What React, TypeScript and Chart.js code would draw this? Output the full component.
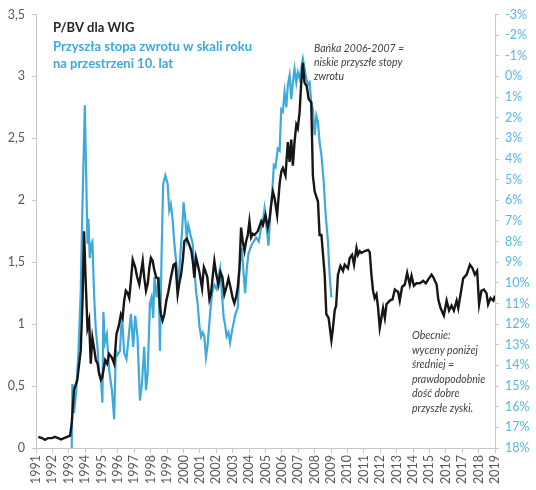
import { useEffect, useRef } from "react";
import { Chart, registerables } from "chart.js";

Chart.register(...registerables);

// P/BV dla WIG (lewa oś)
const pbvYears = [
  1991.14, 1991.37, 1991.55, 1991.73, 1991.98, 1992.16, 1992.35, 1992.53, 1992.71, 1992.9,
  1993.08, 1993.18, 1993.32, 1993.52, 1993.73, 1993.84, 1993.93, 1994.03, 1994.14, 1994.24,
  1994.34, 1994.44, 1994.55, 1994.65, 1994.76, 1994.85, 1994.96, 1995.04, 1995.22, 1995.34,
  1995.46, 1995.63, 1995.77, 1995.91, 1996.04, 1996.18, 1996.28, 1996.38, 1996.48, 1996.59,
  1996.69, 1996.79, 1996.9, 1997.05, 1997.17, 1997.3, 1997.42, 1997.51, 1997.6, 1997.71,
  1997.82, 1997.91, 1998.01, 1998.12, 1998.21, 1998.34, 1998.46, 1998.55, 1998.62, 1998.72,
  1998.83, 1998.95, 1999.07, 1999.22, 1999.39, 1999.51, 1999.64, 1999.74, 1999.85, 1999.96,
  2000.05, 2000.2, 2000.35, 2000.48, 2000.57, 2000.66, 2000.76, 2000.87, 2000.97, 2001.13,
  2001.24, 2001.33, 2001.45, 2001.58, 2001.68, 2001.79, 2001.88, 2002.0, 2002.13, 2002.25,
  2002.37, 2002.49, 2002.62, 2002.74, 2002.86, 2003.0, 2003.1, 2003.21, 2003.31, 2003.41,
  2003.51, 2003.61, 2003.72, 2003.82, 2003.92, 2004.02, 2004.12, 2004.23, 2004.33, 2004.53,
  2004.74, 2004.84, 2005.0, 2005.14, 2005.25, 2005.35, 2005.45, 2005.55, 2005.71, 2005.86,
  2005.96, 2006.06, 2006.22, 2006.36, 2006.47, 2006.57, 2006.67, 2006.77, 2006.88, 2006.97,
  2007.08, 2007.18, 2007.28, 2007.38, 2007.52, 2007.63, 2007.79, 2007.89, 2008.0, 2008.2,
  2008.3, 2008.41, 2008.61, 2008.71, 2008.85, 2009.02, 2009.1, 2009.22, 2009.31, 2009.42,
  2009.57, 2009.73, 2009.83, 2010.03, 2010.14, 2010.28, 2010.4, 2010.55, 2010.64, 2010.75,
  2010.85, 2011.05, 2011.26, 2011.36, 2011.46, 2011.56, 2011.66, 2011.77, 2011.87, 2011.97,
  2012.07, 2012.17, 2012.28, 2012.38, 2012.58, 2012.75, 2012.89, 2013.09, 2013.19, 2013.33,
  2013.5, 2013.64, 2013.8, 2013.91, 2014.05, 2014.21, 2014.42, 2014.62, 2014.78, 2014.92,
  2015.13, 2015.23, 2015.44, 2015.54, 2015.68, 2015.88, 2016.05, 2016.2, 2016.35, 2016.49,
  2016.66, 2016.76, 2016.96, 2017.06, 2017.27, 2017.47, 2017.63, 2017.77, 2017.91, 2018.03,
  2018.17, 2018.32, 2018.48, 2018.58, 2018.73, 2018.9, 2019.0,
];
const pbvValues = [
  0.09, 0.08, 0.065, 0.08, 0.08, 0.09, 0.08, 0.07, 0.08, 0.09,
  0.1, 0.2, 0.47, 0.55, 0.79, 1.2, 1.75, 1.35, 0.97, 1.03,
  0.68, 0.89, 0.8, 0.71, 0.68, 0.6, 0.55, 0.57, 0.71, 0.68,
  0.76, 0.73, 0.68, 0.92, 0.98, 1.08, 1.05, 1.19, 1.27, 1.25,
  1.21, 1.35, 1.52, 1.46, 1.38, 1.32, 1.43, 1.51, 1.38, 1.27,
  1.33, 1.45, 1.535, 1.51, 1.44, 1.375, 1.37, 1.15, 1.08, 1.03,
  1.08, 1.19, 1.26, 1.37, 1.48, 1.49, 1.24, 1.33, 1.4, 1.52,
  1.67, 1.69, 1.64, 1.59, 1.5, 1.375, 1.54, 1.48, 1.42, 1.29,
  1.46, 1.43, 1.38, 1.2, 1.25, 1.4, 1.51, 1.4, 1.32, 1.42,
  1.38, 1.24, 1.3, 1.37, 1.3, 1.21, 1.17, 1.22, 1.3, 1.45,
  1.78, 1.67, 1.59, 1.67, 1.72, 1.83, 1.7, 1.73, 1.72, 1.75,
  1.83, 1.8, 1.88, 1.78, 1.85, 1.97, 2.07, 2.02, 1.88, 2.13,
  2.23, 2.26, 2.2, 2.47, 2.31, 2.49, 2.28, 2.47, 2.61, 2.58,
  2.71, 2.95, 3.11, 2.95, 2.92, 2.82, 2.79, 2.2, 2.07, 1.99,
  1.72, 1.72, 1.4, 1.08, 1.05, 0.87, 0.95, 1.11, 1.15, 1.4,
  1.47, 1.43, 1.48, 1.45, 1.535, 1.56, 1.48, 1.615, 1.56, 1.59,
  1.575, 1.59, 1.6, 1.58, 1.4, 1.27, 1.21, 1.24, 1.13, 0.97,
  1.05, 1.13, 1.05, 1.16, 1.19, 1.2, 1.28, 1.26, 1.19, 1.3,
  1.32, 1.415, 1.32, 1.39, 1.31, 1.33, 1.33, 1.35, 1.33, 1.36,
  1.4, 1.38, 1.32, 1.2, 1.13, 1.07, 1.19, 1.11, 1.15, 1.11,
  1.19, 1.13, 1.29, 1.37, 1.4, 1.48, 1.45, 1.4, 1.43, 1.16,
  1.27, 1.28, 1.25, 1.16, 1.21, 1.19, 1.23,
];

// Przyszła stopa zwrotu w skali roku na przestrzeni 10 lat, % (prawa oś, odwrócona)
const returnYears = [
  1993.18, 1993.22, 1993.32, 1993.45, 1993.59, 1993.73, 1993.83, 1993.98, 1994.08, 1994.14,
  1994.2, 1994.28, 1994.38, 1994.44, 1994.55, 1994.65, 1994.75, 1994.85, 1994.96, 1995.05,
  1995.11, 1995.2, 1995.32, 1995.46, 1995.63, 1995.77, 1995.87, 1995.97, 1996.12, 1996.24,
  1996.38, 1996.52, 1996.69, 1996.79, 1996.93, 1997.05, 1997.19, 1997.34, 1997.46, 1997.6,
  1997.71, 1997.81, 1997.95, 1998.05, 1998.15, 1998.23, 1998.36, 1998.48, 1998.56, 1998.66,
  1998.76, 1998.89, 1999.03, 1999.13, 1999.23, 1999.33, 1999.44, 1999.54, 1999.68, 1999.8,
  1999.91, 2000.0, 2000.11, 2000.19, 2000.29, 2000.4, 2000.56, 2000.66, 2000.76, 2000.86,
  2000.97, 2001.07, 2001.17, 2001.27, 2001.37, 2001.47, 2001.62, 2001.74, 2001.88, 2002.02,
  2002.13, 2002.23, 2002.33, 2002.45, 2002.53, 2002.63, 2002.74, 2002.84, 2002.96, 2003.17,
  2003.31, 2003.41, 2003.55, 2003.65, 2003.76, 2003.86, 2003.96, 2004.13, 2004.27, 2004.43,
  2004.59, 2004.74, 2004.84, 2004.94, 2005.04, 2005.18, 2005.29, 2005.41, 2005.51, 2005.61,
  2005.75, 2005.86, 2005.96, 2006.06, 2006.16, 2006.27, 2006.36, 2006.47, 2006.57, 2006.67,
  2006.77, 2006.88, 2006.97, 2007.08, 2007.18, 2007.28, 2007.38, 2007.49, 2007.59, 2007.69,
  2007.79, 2007.89, 2008.0, 2008.1, 2008.2, 2008.3, 2008.41, 2008.55, 2008.67, 2008.81,
  2008.91, 2009.02,
];
const returnValues = [
  18.0, 14.9, 16.3, 15.3, 13.3, 10.4, 6.4, 1.4, 5.6, 8.1,
  6.9, 8.8, 8.1, 8.0, 10.7, 12.3, 13.1, 14.4, 14.6, 15.8,
  11.4, 12.9, 12.5, 14.2, 15.2, 16.6, 13.3, 13.5, 13.3, 11.5,
  13.4, 13.7, 12.3, 11.5, 13.1, 11.6, 12.6, 15.7, 14.9, 13.1,
  15.2, 14.4, 11.0, 10.7, 11.7, 9.7, 10.7, 9.7, 13.3, 8.6,
  5.2, 4.8, 5.2, 6.5, 6.2, 6.9, 8.1, 8.9, 10.1, 8.7,
  7.5, 6.1, 6.9, 7.8, 7.2, 7.6, 8.1, 9.3, 10.4, 11.0,
  12.1, 12.6, 12.4, 12.6, 13.6, 13.0, 11.5, 10.5, 10.1, 10.3,
  9.7, 9.3, 10.4, 11.7, 12.0, 12.6, 12.4, 12.9, 12.3, 11.5,
  11.2, 9.3, 8.3, 9.4, 10.5, 9.3, 8.6, 8.2, 8.0, 7.8,
  8.0, 7.3, 7.0, 6.4, 7.1, 8.2, 6.7, 5.6, 4.3, 4.4,
  3.5, 3.6, 1.6, 1.7, 0.76, 1.5, 0.43, -0.05, 1.1, 0.3,
  -0.37, 0.3, -0.2, 0.1, -0.37, -0.85, -0.37, 0.1, 0.4, 0.3,
  1.24, 1.6, 2.84, 1.9, 2.2, 3.2, 3.8, 5.1, 6.7, 8.0,
  9.6, 10.7,
];

const yearMin = 1991;
const yearMax = 2019;
const pbvTicks = [0, 0.5, 1, 1.5, 2, 2.5, 3, 3.5];
const returnTickMin = -3;
const returnTickMax = 18;

const titleLines = ["P/BV dla WIG"];
const subtitleLines = ["Przyszła stopa zwrotu w skali roku", "na przestrzeni 10. lat"];
const bubbleNote = ["Bańka 2006-2007 =", "niskie przyszłe stopy", "zwrotu"];
const currentNote = [
  "Obecnie:",
  "wyceny poniżej",
  "średniej =",
  "prawdopodobnie",
  "dość dobre",
  "przyszłe zyski.",
];

const BLACK = "#161616";
const BLUE = "#3ea9dd";
const AXIS_GREY = "#595959";
const LINE_GREY = "#c8c8c8";
const FONT = "Lato, 'Open Sans', sans-serif";

const notesPlugin = {
  id: "notes",
  afterDraw(chart: Chart) {
    const { ctx } = chart;
    ctx.save();
    ctx.textBaseline = "middle";
    ctx.textAlign = "left";

    ctx.fillStyle = "#262626";
    ctx.font = `bold 13px ${FONT}`;
    titleLines.forEach((t, i) => ctx.fillText(t, 53, 28 + i * 18));

    ctx.fillStyle = BLUE;
    subtitleLines.forEach((t, i) => ctx.fillText(t, 53, 47 + i * 17));

    ctx.fillStyle = "#404040";
    ctx.font = `italic 10.5px ${FONT}`;
    bubbleNote.forEach((t, i) => ctx.fillText(t, 314, 49 + i * 14));
    currentNote.forEach((t, i) => ctx.fillText(t, 412, 336 + i * 14.5));
    ctx.restore();
  },
};

export default function App() {
  const canvasRef = useRef<HTMLCanvasElement | null>(null);

  useEffect(() => {
    document.body.style.margin = "0";
    if (!canvasRef.current) return;
    const ctx = canvasRef.current.getContext("2d");
    if (!ctx) return;

    const chart = new Chart(ctx, {
      type: "line",
      data: {
        datasets: [
          {
            label: "P/BV dla WIG",
            data: pbvYears.map((x, i) => ({ x, y: pbvValues[i] })),
            borderColor: BLACK,
            borderWidth: 2.4,
            pointRadius: 0,
            tension: 0,
            yAxisID: "y",
          },
          {
            label: "Przyszła stopa zwrotu",
            data: returnYears.map((x, i) => ({ x, y: returnValues[i] })),
            borderColor: BLUE,
            borderWidth: 2.2,
            pointRadius: 0,
            tension: 0,
            yAxisID: "y1",
          },
        ],
      },
      options: {
        responsive: false,
        animation: false,
        layout: { padding: { top: 12, left: 0, right: 0, bottom: 0 } },
        plugins: {
          legend: { display: false },
          tooltip: { enabled: false },
        },
        scales: {
          x: {
            type: "linear",
            min: yearMin,
            max: yearMax,
            afterFit: (s: any) => {
              s.height = 42;
            },
            ticks: {
              stepSize: 1,
              autoSkip: false,
              minRotation: 90,
              maxRotation: 90,
              padding: 2,
              color: AXIS_GREY,
              font: { family: FONT, size: 12.5 },
              callback: (v: any) => String(v),
            },
            grid: { drawOnChartArea: false, tickLength: 5, color: LINE_GREY },
            border: { color: LINE_GREY },
          },
          y: {
            position: "left",
            min: 0,
            max: 3.5,
            afterFit: (s: any) => {
              s.width = 36;
            },
            afterBuildTicks: (s: any) => {
              s.ticks = pbvTicks.map((value) => ({ value }));
            },
            ticks: {
              padding: 7,
              color: AXIS_GREY,
              font: { family: FONT, size: 12.5 },
              callback: (v: any) => String(v).replace(".", ","),
            },
            grid: { drawOnChartArea: false, tickLength: 4, color: LINE_GREY },
            border: { color: LINE_GREY },
          },
          y1: {
            position: "right",
            reverse: true,
            min: returnTickMin,
            max: returnTickMax,
            afterFit: (s: any) => {
              s.width = 41;
            },
            ticks: {
              stepSize: 1,
              padding: 6,
              color: "#5ab6e0",
              font: { family: FONT, size: 12.5 },
              callback: (v: any) => `${v}%`,
            },
            grid: { drawOnChartArea: false, tickLength: 4, color: LINE_GREY },
            border: { color: LINE_GREY },
          },
        },
      },
      plugins: [notesPlugin],
    });

    return () => chart.destroy();
  }, []);

  return (
    <div style={{ width: 536, height: 490, background: "#fff" }}>
      <canvas ref={canvasRef} width={536} height={490}></canvas>
    </div>
  );
}
